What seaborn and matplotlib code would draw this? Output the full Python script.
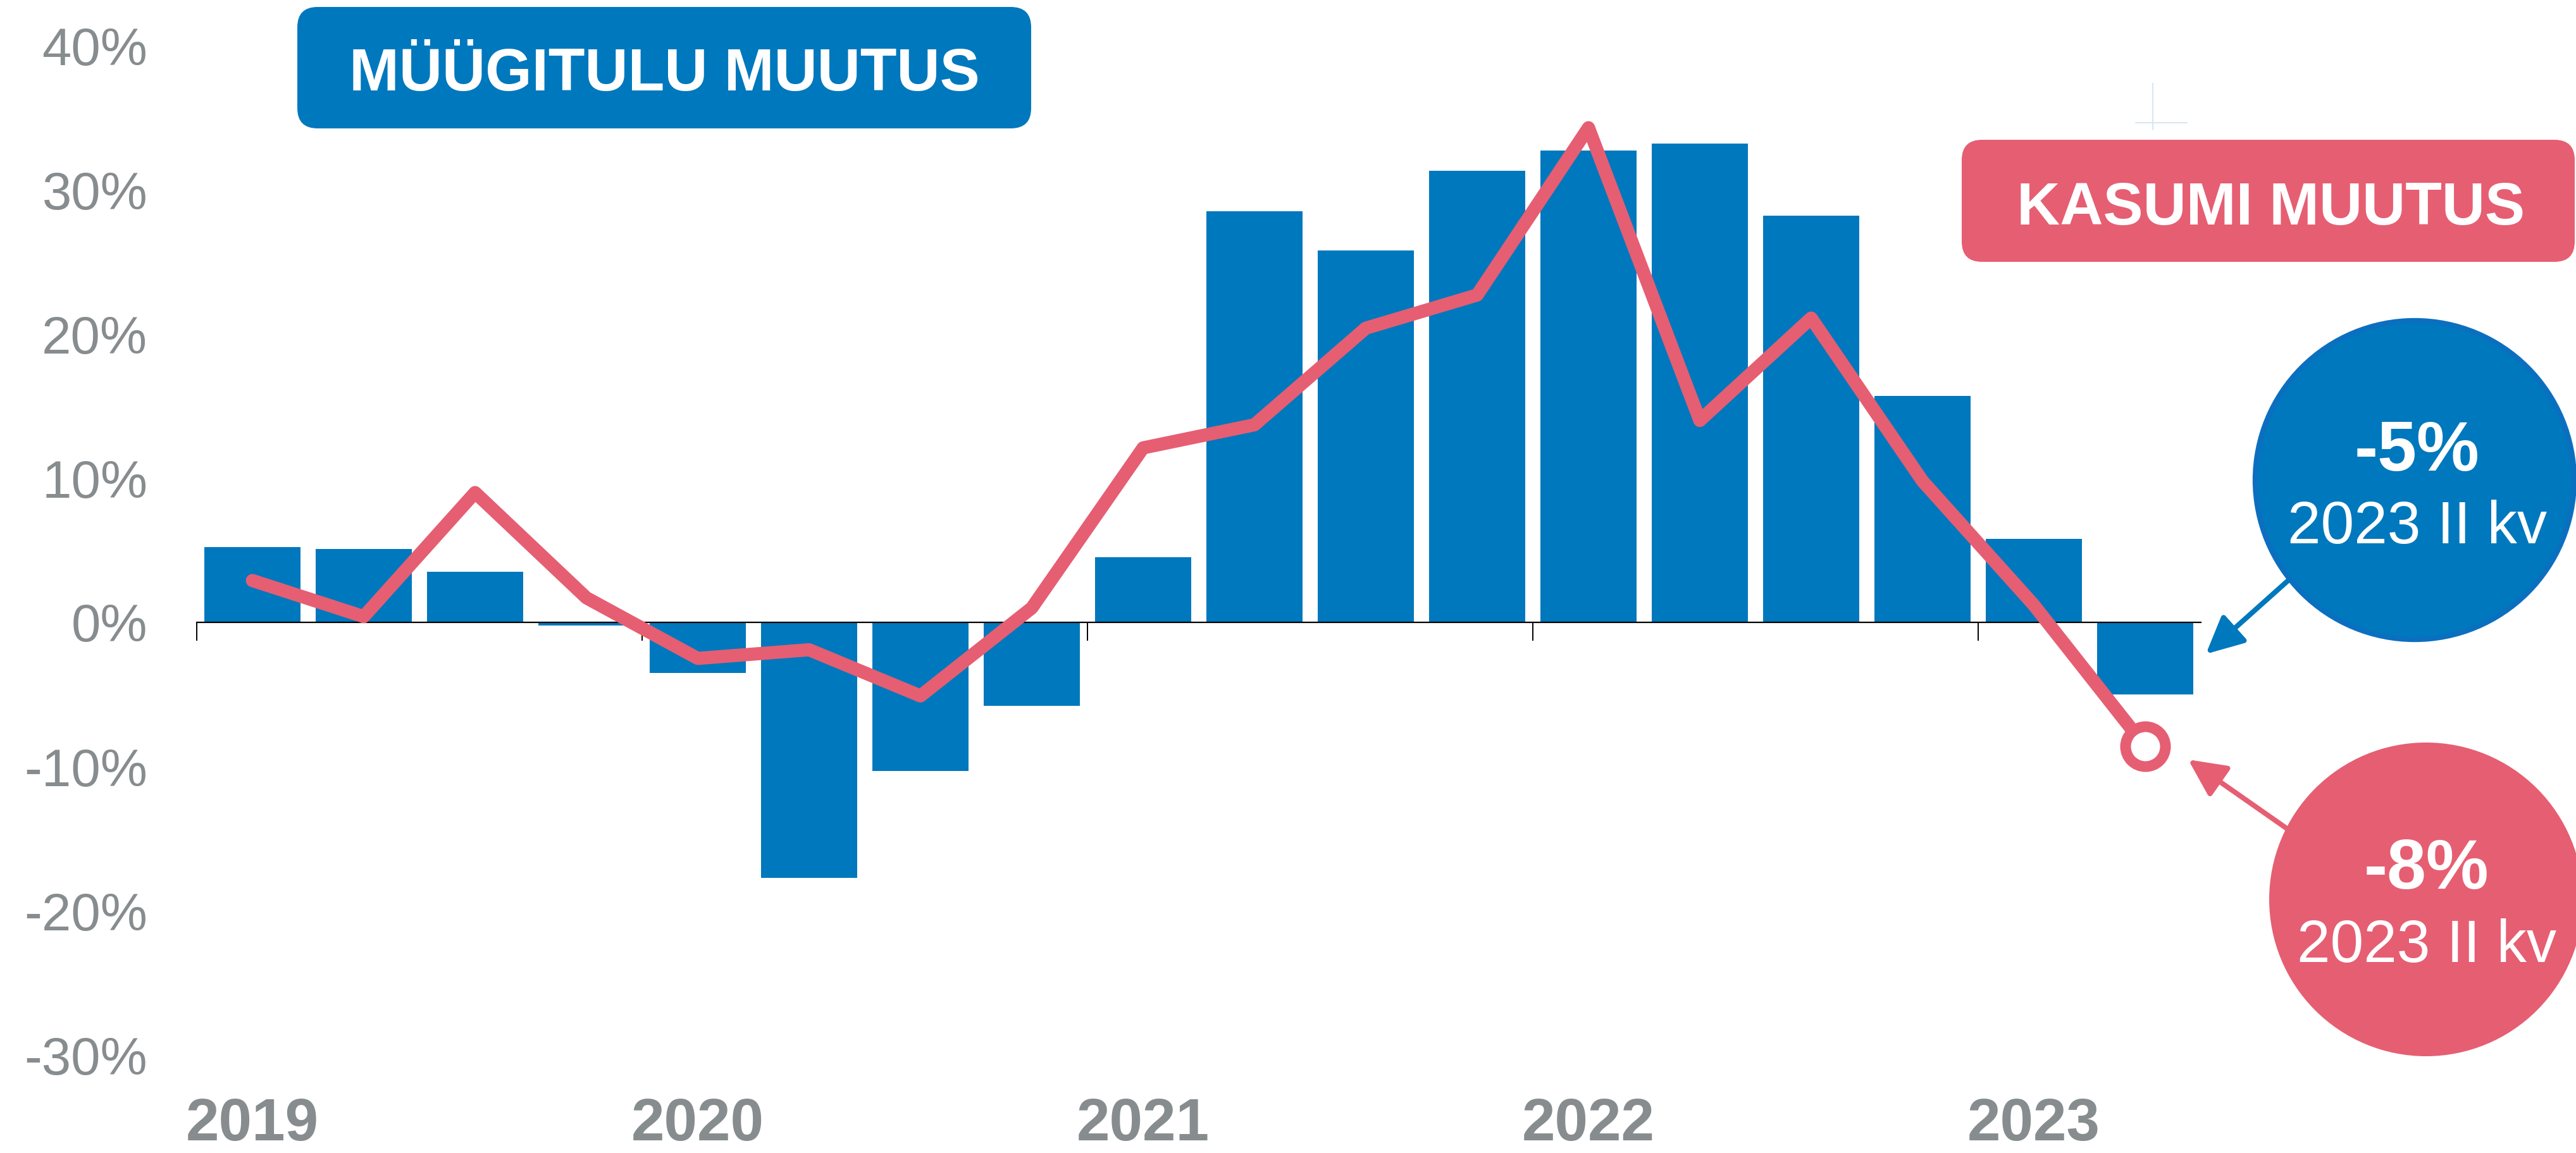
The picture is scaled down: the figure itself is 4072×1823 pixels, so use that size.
import pandas as pd
import seaborn as sns
import matplotlib.pyplot as plt
from matplotlib.patches import FancyBboxPatch, Circle, FancyArrowPatch
from matplotlib.lines import Line2D
from matplotlib.transforms import IdentityTransform, blended_transform_factory

sns.set_theme(style="white")
plt.rcParams['font.family'] = ['Liberation Sans', 'DejaVu Sans']

# kvartalid 2019 I kv kuni 2023 II kv
quarters = ['2019Q1', '2019Q2', '2019Q3', '2019Q4',
            '2020Q1', '2020Q2', '2020Q3', '2020Q4',
            '2021Q1', '2021Q2', '2021Q3', '2021Q4',
            '2022Q1', '2022Q2', '2022Q3', '2022Q4',
            '2023Q1', '2023Q2']
# müügitulu muutus, %
sales_change = [5.2, 5.1, 3.5, -0.2, -3.5, -17.7, -10.3, -5.8, 4.5,
                28.5, 25.8, 31.3, 32.7, 33.2, 28.2, 15.7, 5.8, -5.0]
# kasumi muutus, %
profit_change = [2.9, 0.4, 9.0, 1.7, -2.5, -1.9, -5.1, 1.0, 12.1,
                 13.7, 20.4, 22.7, 34.3, 14.0, 21.1, 9.8, 1.2, -8.6]
y_ticks = [-30, -20, -10, 0, 10, 20, 30, 40]

BLUE = '#0078BD'
RED = '#E65E72'
GRAY = '#878C8F'

df = pd.DataFrame({'kvartal': quarters, 'myygitulu': sales_change, 'kasum': profit_change})
df['pos'] = range(len(df))

W, H, DPI = 4072, 1823, 200
fig = plt.figure(figsize=(W / DPI, H / DPI), dpi=DPI)
ax = fig.add_axes([311 / W, 1 - 1668 / H, 3168 / W, 1596 / H])

sns.barplot(data=df, x='kvartal', y='myygitulu', color=BLUE, saturation=1,
            width=0.858, linewidth=0, ax=ax)
sns.lineplot(data=df, x='pos', y='kasum', color=RED, linewidth=7.5,
             solid_joinstyle='round', solid_capstyle='round', ax=ax, zorder=3)
last = df.iloc[-1]
ax.plot(last['pos'], last['kasum'], 'o', ms=22.7, mfc='white', mec=RED, mew=6.1, zorder=4)

ax.set_xlim(-0.5, len(quarters) - 0.5)
ax.set_ylim(y_ticks[0], y_ticks[-1])
ax.set_yticks(y_ticks)
ax.set_yticklabels([f'{v}%' for v in y_ticks])
ax.tick_params(axis='y', length=0, pad=28, labelsize=30, labelcolor=GRAY)

year_starts = [i for i, q in enumerate(quarters) if q.endswith('Q1')]
ax.set_xticks([i - 0.5 for i in year_starts])
ax.set_xticklabels([])
ax.tick_params(axis='x', direction='out', length=10.4, width=0.7, color='black', bottom=True)
for s in ['top', 'right', 'left']:
    ax.spines[s].set_visible(False)
ax.spines['bottom'].set_position(('data', 0))
ax.spines['bottom'].set_color('black')
ax.spines['bottom'].set_linewidth(0.8)
ax.set_xlabel('')
ax.set_ylabel('')
ax.grid(False)

trans = blended_transform_factory(ax.transData, ax.transAxes)
for i in year_starts:
    ax.text(i, -0.0846, quarters[i][:4], transform=trans, ha='center', va='baseline',
            fontsize=34, fontweight='bold', color=GRAY)

px = IdentityTransform()

# pealkirjakastid
fig.add_artist(FancyBboxPatch((470, 1620), 1160, 192, boxstyle='round,pad=0,rounding_size=32',
                              transform=px, facecolor=BLUE, edgecolor='none'))
fig.text(1050 / W, 1 - 143 / H, 'MÜÜGITULU MUUTUS', ha='center', va='baseline',
         fontsize=34, fontweight='bold', color='white')
fig.add_artist(FancyBboxPatch((3101, 1409), 969, 193, boxstyle='round,pad=0,rounding_size=32',
                              transform=px, facecolor=RED, edgecolor='none'))
fig.text(3590 / W, 1 - 355 / H, 'KASUMI MUUTUS', ha='center', va='baseline',
         fontsize=34, fontweight='bold', color='white')

# nooled ja ringid
fig.add_artist(FancyArrowPatch((3619, 907), (3487, 789), transform=px,
                               arrowstyle='-|>,head_length=0.45,head_width=0.22', mutation_scale=40,
                               color=BLUE, lw=2.9, shrinkA=0, shrinkB=0))
fig.add_artist(FancyArrowPatch((3615, 513), (3459, 622), transform=px,
                               arrowstyle='-|>,head_length=0.45,head_width=0.22', mutation_scale=40,
                               color=RED, lw=2.9, shrinkA=0, shrinkB=0))
fig.add_artist(Circle((3817, 1064), 252, transform=px, facecolor=BLUE, edgecolor='#0B6FC0', lw=3))
fig.add_artist(Circle((3835, 401), 248, transform=px, facecolor=RED, edgecolor='none'))

fig.text(3820 / W, 1 - 744 / H, f'{sales_change[-1]:.0f}%', ha='center', va='baseline',
         fontsize=40, fontweight='bold', color='white')
fig.text(3821 / W, 1 - 859 / H, '2023 II kv', ha='center', va='baseline', fontsize=34, color='white')
fig.text(3835 / W, 1 - 1405 / H, '-8%', ha='center', va='baseline',
         fontsize=40, fontweight='bold', color='white')
fig.text(3836 / W, 1 - 1521 / H, '2023 II kv', ha='center', va='baseline', fontsize=34, color='white')

# väike hele rist
fig.add_artist(Line2D([3403, 3403], [1618, 1691], transform=px, color='#DCE6F2', lw=0.8))
fig.add_artist(Line2D([3376, 3457], [1629, 1629], transform=px, color='#DCE6F2', lw=0.8))

fig.savefig('out.png', dpi=DPI, facecolor='white')
